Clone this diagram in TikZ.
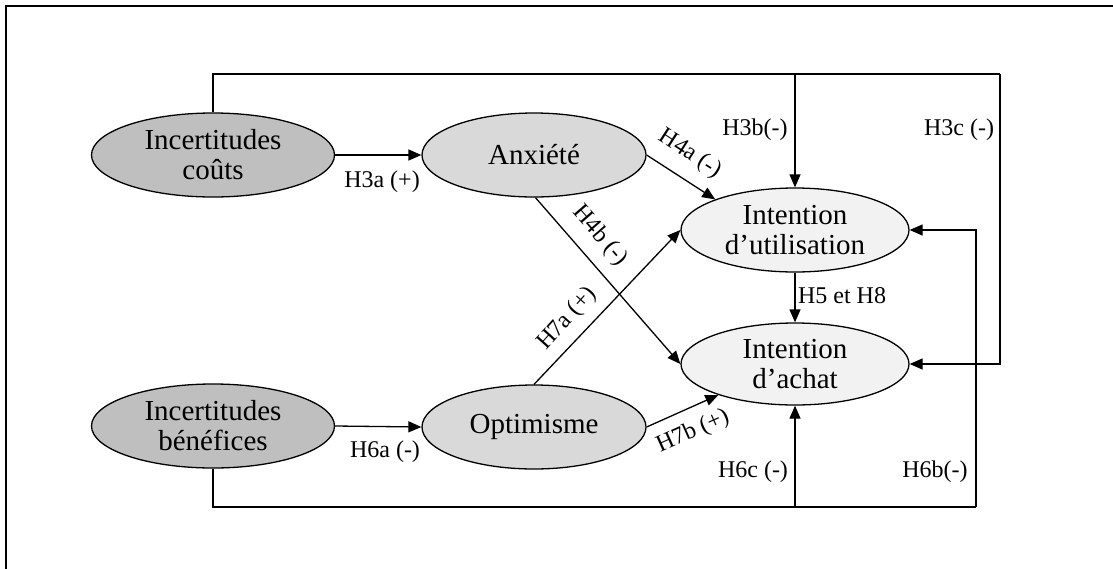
\documentclass[tikz,border=0pt]{standalone}
\usepackage{fontspec}
\setmainfont{Liberation Serif}
\usetikzlibrary{shapes.geometric,arrows.meta}
\definecolor{gdark}{HTML}{BFBFBF}
\definecolor{gmid}{HTML}{D9D9D9}
\definecolor{glight}{HTML}{F2F2F2}
\tikzset{
  ell/.style={ellipse,draw=black,line width=1.3pt,inner sep=0pt,align=center,
    font=\fontsize{29}{30}\selectfont},
  lab/.style={inner sep=0pt,font=\fontsize{24}{26}\selectfont},
  conn/.style={line width=1.3pt},
  arr/.style={conn,-{Triangle[length=13pt,width=11pt]}},
}
\begin{document}
\begin{tikzpicture}[x=1pt,y=-1pt]
\useasboundingbox (0,0) rectangle (1113,568);
\draw[line width=2.2pt] (6,575) -- (6,6) -- (1120,6);
% nodes
\node[ell,fill=gdark,minimum width=243pt,minimum height=84pt] (icc) at (213,155) {Incertitudes\\coûts};
\node[ell,fill=gmid,minimum width=224pt,minimum height=84pt] (anx) at (534,155) {Anxiété};
\node[ell,fill=gdark,minimum width=243pt,minimum height=84pt] (icb) at (213,426) {Incertitudes\\bénéfices};
\node[ell,fill=gmid,minimum width=224pt,minimum height=84pt] (opt) at (534,427) {Optimisme};
\node[ell,fill=glight,minimum width=228pt,minimum height=84pt] (iu) at (795,230) {Intention\\d’utilisation};
\node[ell,fill=glight,minimum width=228pt,minimum height=82pt] (ia) at (795,364) {Intention\\d’achat};
% helper coordinates
\coordinate (tr) at (1000,74);
\coordinate (br) at (976,507);
\coordinate (tm) at (iu.north |- tr);
\coordinate (bm) at (ia.south |- br);
% connectors
\draw[arr] (icc.east) -- (anx.west);
\draw[arr] (icb.east) -- (opt.west);
\draw[conn] (icc.north) |- (tr);
\draw[arr] (tr) |- (ia.east);
\draw[arr] (tm) -- (iu.north);
\draw[conn] (icb.south) |- (br);
\draw[arr] (br) |- (iu.east);
\draw[arr] (bm) -- (ia.south);
\draw[arr] (iu.south) -- (ia.north);
\draw[arr] (anx.east) -- (iu.159);
\draw[arr] (anx.-88) -- (ia.west);
\draw[arr] (opt.north) -- (iu.west);
\draw[arr] (opt.east) -- (ia.202);
% labels
\node[lab] (l3a) at (382,182) {H3a (+)};
\node[lab] (l6a) at (385,452) {H6a (-)};
\node[lab] (l3b) at (755,130) {H3b(-)};
\node[lab] (l3c) at (959,130) {H3c (-)};
\node[lab] (l6c) at (753,472) {H6c (-)};
\node[lab] (l6b) at (935,472) {H6b(-)};
\node[lab] (l58) at (842,296) {H5 et H8};
\node[lab,rotate=-33] (l4a) at (690,154) {H4a (-)};
\node[lab,rotate=-49] (l4b) at (600,236) {H4b (-)};
\node[lab,rotate=48] (l7a) at (567,319) {H7a (+)};
\node[lab,rotate=24] (l7b) at (693,432) {H7b (+)};
\end{tikzpicture}
\end{document}
